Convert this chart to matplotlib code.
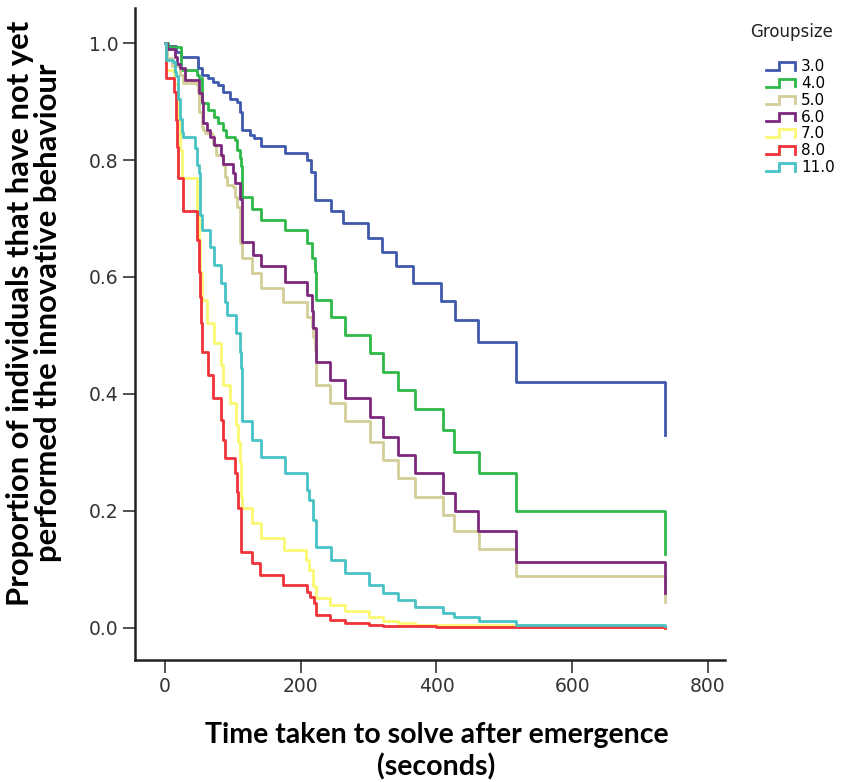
import matplotlib
matplotlib.use('Agg')
import matplotlib.pyplot as plt
import numpy as np
from matplotlib.lines import Line2D
from matplotlib.legend_handler import HandlerBase

# Kaplan-Meier style step curves: time of each drop and the proportion after it
groups = ['3.0', '4.0', '5.0', '6.0', '7.0', '8.0', '11.0']
colors = ['#3E58AC', '#2EB848', '#D3CE97', '#7C287D', '#FBF873', '#EF3338', '#48C2C5']

t_3 = [0, 3, 17, 24, 49, 54, 64, 71, 78, 86, 96, 106, 111, 113, 125, 132, 142, 177, 209, 215,
       221, 245, 263, 299, 320, 341, 366, 407, 427, 461, 517, 737]
p_3 = [1.0, 0.995, 0.985, 0.976, 0.957, 0.945, 0.940, 0.934, 0.928, 0.917, 0.905, 0.900, 0.883,
       0.851, 0.843, 0.837, 0.824, 0.8125, 0.80, 0.78, 0.732, 0.712, 0.692, 0.666, 0.643, 0.618,
       0.589, 0.559, 0.5265, 0.489, 0.421, 0.33]

t_4 = [0, 5, 24, 48, 51, 54, 63, 73, 78, 85, 90, 103, 106, 110, 112, 113, 128, 142, 177, 209,
       216, 221, 223, 244, 265, 302, 322, 344, 368, 409, 426, 462, 517, 737]
p_4 = [1.0, 0.994, 0.954, 0.945, 0.940, 0.897, 0.885, 0.874, 0.863, 0.851, 0.840, 0.834, 0.817,
       0.803, 0.789, 0.737, 0.717, 0.697, 0.680, 0.658, 0.632, 0.609, 0.561, 0.532, 0.501, 0.470,
       0.438, 0.407, 0.374, 0.338, 0.301, 0.264, 0.200, 0.126]

t_5 = [0, 3, 10, 22, 27, 47, 49, 51, 54, 56, 59, 69, 71, 76, 84, 86, 88, 91, 101, 103,
       106, 110, 111, 113, 128, 142, 174, 209, 216, 218, 221, 223, 243, 265, 302, 322, 344, 368,
       409, 426, 462, 517, 737]
p_5 = [1.0, 0.975, 0.96, 0.945, 0.931, 0.928, 0.917, 0.883, 0.857, 0.851, 0.846, 0.843, 0.828,
       0.8085, 0.806, 0.791, 0.771, 0.757, 0.754, 0.737, 0.720, 0.717, 0.658, 0.632, 0.606, 0.581,
       0.558, 0.532, 0.515, 0.498, 0.475, 0.415, 0.384, 0.353, 0.318, 0.287, 0.256, 0.224, 0.193,
       0.165, 0.1345, 0.088, 0.045]

t_6 = [0, 3, 15, 18, 22, 29, 51, 54, 56, 62, 66, 73, 83, 86, 101, 103, 110, 113, 114, 130,
       142, 177, 209, 216, 218, 223, 243, 265, 302, 322, 344, 368, 410, 427, 461, 517, 737]
p_6 = [1.0, 0.99, 0.977, 0.965, 0.957, 0.937, 0.914, 0.90, 0.863, 0.851, 0.840, 0.826, 0.8085,
       0.794, 0.777, 0.760, 0.734, 0.700, 0.660, 0.638, 0.618, 0.592, 0.569, 0.541, 0.512, 0.455,
       0.424, 0.393, 0.361, 0.327, 0.296, 0.264, 0.230, 0.199, 0.166, 0.112, 0.06]

t_7 = [0, 2, 14, 19, 22, 25, 48, 50, 52, 55, 62, 72, 82, 86, 96, 105, 108, 110, 112, 114,
       129, 141, 176, 208, 213, 218, 223, 243, 265, 300, 322, 344, 368, 737]
p_7 = [1.0, 0.954, 0.93, 0.868, 0.817, 0.769, 0.706, 0.663, 0.606, 0.561, 0.521, 0.487, 0.450,
       0.415, 0.384, 0.347, 0.318, 0.284, 0.224, 0.205, 0.179, 0.153, 0.133, 0.116, 0.099, 0.071,
       0.051, 0.039, 0.028, 0.019, 0.011, 0.008, 0.005, 0.003]

t_8 = [0, 1, 14, 16, 18, 20, 26, 47, 50, 52, 53, 54, 64, 71, 83, 86, 88, 103, 106, 108,
       112, 128, 140, 174, 209, 214, 219, 223, 243, 265, 300, 322, 400, 737]
p_8 = [1.0, 0.94, 0.917, 0.868, 0.823, 0.769, 0.712, 0.663, 0.609, 0.566, 0.521, 0.472, 0.432,
       0.393, 0.356, 0.321, 0.290, 0.264, 0.233, 0.205, 0.130, 0.111, 0.091, 0.0735, 0.062, 0.0535,
       0.042, 0.022, 0.014, 0.008, 0.005, 0.003, 0.001, 0.0]

t_11 = [0, 2, 12, 15, 17, 20, 22, 25, 27, 44, 47, 51, 52, 54, 66, 73, 83, 88, 92, 105,
        110, 112, 113, 128, 142, 177, 209, 213, 218, 223, 245, 265, 300, 322, 344, 368, 409, 426,
        462, 517, 737]
p_11 = [1.0, 0.971, 0.968, 0.951, 0.943, 0.905, 0.871, 0.848, 0.840, 0.820, 0.791, 0.777, 0.706,
        0.680, 0.652, 0.620, 0.589, 0.558, 0.535, 0.504, 0.472, 0.444, 0.353, 0.321, 0.293, 0.264,
        0.236, 0.219, 0.185, 0.139, 0.116, 0.094, 0.074, 0.059, 0.048, 0.036, 0.026, 0.018, 0.012,
        0.005, 0.003]

times = [t_3, t_4, t_5, t_6, t_7, t_8, t_11]
props = [p_3, p_4, p_5, p_6, p_7, p_8, p_11]

x_ticks = [0, 200, 400, 600, 800]
y_ticks = [0.0, 0.2, 0.4, 0.6, 0.8, 1.0]

label_font = 'Lato'


class StepHandler(HandlerBase):
    # little step-shaped line like the SPSS legend key
    def create_artists(self, legend, orig_handle, xdescent, ydescent, width, height, fontsize, trans):
        xs = np.array([0, 0.45, 0.45, 1.0, 1.0]) * width - xdescent
        ys = np.array([0.1, 0.1, 0.85, 0.85, 0.15]) * height - ydescent
        line = Line2D(xs, ys, color=orig_handle.get_color(), lw=orig_handle.get_linewidth(),
                      solid_joinstyle='miter', transform=trans)
        return [line]


fig = plt.figure(figsize=(8.47, 7.82), dpi=100)
ax = fig.add_axes([135 / 847, 122 / 782, 590 / 847, 652 / 782])

handles = []
for t, p, c, g in zip(times, props, colors, groups):
    line, = ax.step(t, p, where='post', color=c, lw=2.0, label=g)
    handles.append(line)

ax.set_xlim(-44, 825)
ax.set_ylim(-0.055, 1.06)
ax.set_xticks(x_ticks)
ax.set_xticklabels([str(v) for v in x_ticks])
ax.set_yticks(y_ticks)
ax.set_yticklabels([f'{v:.1f}' for v in y_ticks])

for s in ['top', 'right']:
    ax.spines[s].set_visible(False)
for s in ['left', 'bottom']:
    ax.spines[s].set_linewidth(1.8)
    ax.spines[s].set_color('#222222')

ax.tick_params(axis='both', direction='out', length=9, width=1.1, color='#222222',
               labelsize=13.5, labelcolor='#333333', pad=3)

ax.set_xlabel('Time taken to solve after emergence\n(seconds)', fontsize=20.5,
              fontweight='bold', family=label_font, linespacing=1.25)
ax.xaxis.set_label_coords(0.511, -0.095)
ax.set_ylabel('Proportion of individuals that have not yet\nperformed the innovative behaviour',
              fontsize=22.3, fontweight='bold', family=label_font, linespacing=1.0)
ax.yaxis.set_label_coords(-0.124, 0.532)

fig.text(750 / 847, 1 - 32 / 782, 'Groupsize', fontsize=12, va='center', ha='left', color='#222222')
fig.legend(handles=handles, handler_map={Line2D: StepHandler()},
           loc='upper left', bbox_to_anchor=(760 / 847, 1 - 53 / 782),
           frameon=False, fontsize=11, handlelength=1.9, handletextpad=0.4,
           labelspacing=0.12, borderaxespad=0)

fig.savefig('out.png', dpi=100, facecolor='white')
